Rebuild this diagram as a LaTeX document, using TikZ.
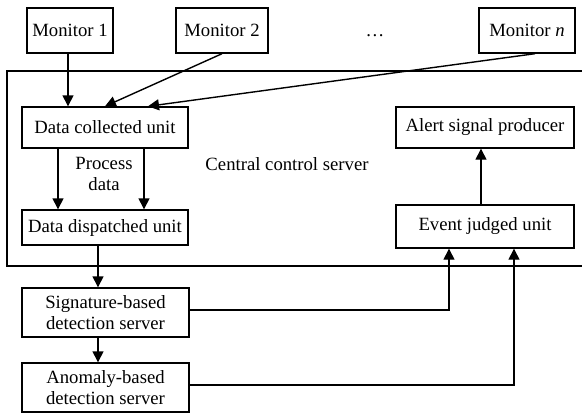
\documentclass[tikz,border=0pt]{standalone}
\usepackage{fontspec}
\setmainfont{Liberation Serif}
\usetikzlibrary{arrows.meta}
\begin{document}
\begin{tikzpicture}[x=1pt,y=-1pt,
  every node/.style={font=\fontsize{18.7}{21}\selectfont},
  box/.style={draw,line width=1.4pt,inner sep=0pt,align=center},
  arr/.style={line width=1.4pt,-{Triangle[length=11pt,width=11pt]}},
  ln/.style={line width=1.4pt}]
\useasboundingbox (0,0) rectangle (582,413);
% central server frame
\draw[ln] (582,71) -- (7,71) -- (7,266) -- (582,266);
\node (lbl) at (287,164) {Central control server};
% monitors
\node[box,minimum width=86pt,minimum height=45pt] (M1) at (70,30.5) {Monitor 1};
\node[box,minimum width=92pt,minimum height=45pt] (M2) at (222,30.5) {Monitor 2};
\node[box,minimum width=96pt,minimum height=45pt] (Mn) at (527,30.5) {Monitor \textit{n}};
\node[anchor=base] (dots) at (375,36) {\ldots};
% units
\node[box,minimum width=166pt,minimum height=41pt] (DC) at (105,127.5) {Data collected unit};
\node[box,minimum width=166pt,minimum height=35pt] (DD) at (105,227.5) {Data dispatched unit};
\node[align=center] (pd) at (104,174) {Process\\data};
\node[box,minimum width=178pt,minimum height=41pt] (AS) at (485,127.5) {Alert signal producer};
\node[box,minimum width=178pt,minimum height=43pt] (EJ) at (485,226.5) {Event judged unit};
\node[box,minimum width=167pt,minimum height=49pt] (SIG) at (105.5,312.5) {Signature-based\\detection server};
\node[box,minimum width=167pt,minimum height=49pt] (AN) at (105.5,387.5) {Anomaly-based\\detection server};
% connectors
\draw[arr] ([xshift=-2pt]M1.south) -- ([xshift=-2pt]M1.south |- DC.north);
\draw[arr] (M2.south) -- (DC.north);
\draw[arr] ([xshift=8pt]Mn.south) -- ([xshift=43pt]DC.north);
\draw[arr] ([xshift=-47pt]DC.south) -- ([xshift=-47pt]DD.north);
\draw[arr] ([xshift=39pt]DC.south) -- ([xshift=39pt]DD.north);
\draw[arr] ([xshift=-7pt]DD.south) -- ([xshift=-7.5pt]SIG.north);
\draw[arr] ([xshift=-7.5pt]SIG.south) -- ([xshift=-7.5pt]AN.north);
\draw[arr] ([yshift=2.5pt]SIG.east) -| ([xshift=-36pt]EJ.south);
\draw[arr] ([yshift=2.5pt]AN.east) -| ([xshift=29pt]EJ.south);
\draw[arr] ([xshift=-4pt]EJ.north) -- ([xshift=-4pt]AS.south);
\end{tikzpicture}
\end{document}
